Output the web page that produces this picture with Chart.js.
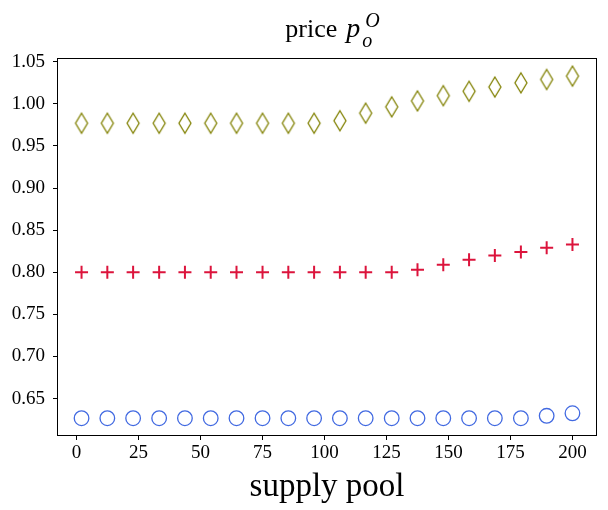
<!DOCTYPE html>
<html lang="en">
<head>
  <meta charset="UTF-8">
  <title>price p_o^O</title>
  <script src="https://cdn.jsdelivr.net/npm/chart.js"></script>
  <style>
    html, body { margin: 0; padding: 0; background: #fff; }
    .wrap { width: 608px; height: 510px; position: relative; }
  </style>
</head>
<body>
  <div class="wrap">
    <canvas id="priceChart"></canvas>
  </div>

  <script>
    // values
    const supplyPool = [2, 12.4, 22.8, 33.3, 43.7, 54.1, 64.5, 75, 85.4, 95.8,
      106.2, 116.6, 127.1, 137.5, 147.9, 158.3, 168.7, 179.2, 189.6, 200];
    const diamondPrice = [0.977, 0.977, 0.977, 0.977, 0.977, 0.977, 0.977, 0.977, 0.977, 0.977,
      0.980, 0.989, 0.9965, 1.0035, 1.0098, 1.015, 1.020, 1.025, 1.029, 1.033];
    const plusPrice = [0.800, 0.800, 0.800, 0.800, 0.800, 0.800, 0.800, 0.800, 0.800, 0.800,
      0.800, 0.800, 0.800, 0.803, 0.809, 0.815, 0.820, 0.824, 0.829, 0.833];
    const circlePrice = [0.6266, 0.6266, 0.6266, 0.6266, 0.6266, 0.6266, 0.6266, 0.6266, 0.6266, 0.6266,
      0.6266, 0.6266, 0.6266, 0.6266, 0.6266, 0.6266, 0.6266, 0.6266, 0.6295, 0.6325];

    const serif = "'Liberation Serif', 'DejaVu Serif', serif";

    // thin diamond marker (matplotlib 'd')
    function thinDiamond(color) {
      const c = document.createElement('canvas');
      c.width = 16;
      c.height = 24;
      const g = c.getContext('2d');
      g.strokeStyle = color;
      g.lineWidth = 1.3;
      g.beginPath();
      g.moveTo(8, 2);
      g.lineTo(14, 12);
      g.lineTo(8, 22);
      g.lineTo(2, 12);
      g.closePath();
      g.stroke();
      return c;
    }

    const toPoints = ys => ys.map((y, i) => ({ x: supplyPool[i], y: y }));

    // frame + title with sub/superscript
    const frameAndTitle = {
      id: 'frameAndTitle',
      afterDraw(chart) {
        const { ctx, chartArea: a } = chart;
        ctx.save();
        ctx.strokeStyle = '#000';
        ctx.lineWidth = 1;
        ctx.strokeRect(Math.round(a.left) + 0.5, Math.round(a.top) + 0.5,
          Math.round(a.right - a.left) - 1, Math.round(a.bottom - a.top) - 1);

        ctx.fillStyle = '#000';
        ctx.textBaseline = 'alphabetic';
        ctx.textAlign = 'left';
        const big = '26px ' + serif;
        const bigIt = 'italic 28px ' + serif;
        const small = 'italic 20px ' + serif;
        ctx.font = big;
        const w1 = ctx.measureText('price').width + 9;
        ctx.font = bigIt;
        const w2 = ctx.measureText('p').width + 3;
        ctx.font = small;
        const w3 = ctx.measureText('O').width + 3;
        const total = w1 + w2 + w3;
        let x = 333 - total / 2;
        const base = 37;
        ctx.font = big;
        ctx.fillText('price', x, base);
        x += w1;
        ctx.font = bigIt;
        ctx.fillText('p', x, base);
        x += w2;
        ctx.font = small;
        ctx.fillText('o', x - 1, base + 10);
        ctx.fillText('O', x + 2, base - 10);
        ctx.restore();
      }
    };

    const chartData = {
      datasets: [{
        label: 'diamond',
        data: toPoints(diamondPrice),
        pointStyle: thinDiamond('#808000'),
        borderColor: '#808000',
        backgroundColor: 'transparent',
        showLine: false
      }, {
        label: 'plus',
        data: toPoints(plusPrice),
        pointStyle: 'cross',
        pointRadius: 6.5,
        borderColor: '#dc143c',
        borderWidth: 2,
        showLine: false
      }, {
        label: 'circle',
        data: toPoints(circlePrice),
        pointStyle: 'circle',
        pointRadius: 7.3,
        borderColor: '#4169e1',
        backgroundColor: 'transparent',
        borderWidth: 1.3,
        showLine: false
      }]
    };

    const tickFont = { family: serif, size: 19 };

    const priceConfig = {
      type: 'scatter',
      data: chartData,
      options: {
        responsive: true,
        maintainAspectRatio: false,
        animation: false,
        layout: { padding: { top: 58, right: 11, left: 0, bottom: 0 } },
        plugins: {
          legend: { display: false },
          tooltip: { enabled: false }
        },
        scales: {
          x: {
            type: 'linear',
            min: -7.9,
            max: 209.9,
            afterFit(scale) { scale.height = 74; },
            border: { display: false },
            grid: { drawOnChartArea: false, drawTicks: true, tickLength: 4, tickColor: '#000' },
            ticks: {
              stepSize: 25,
              includeBounds: false,
              padding: 2,
              color: '#000',
              font: tickFont,
              maxRotation: 0,
              callback: v => String(Math.round(v))
            },
            title: {
              display: true,
              text: 'supply pool',
              color: '#000',
              font: { family: serif, size: 33 },
              padding: { top: 0, bottom: 3 }
            }
          },
          y: {
            min: 0.6055,
            max: 1.0545,
            afterFit(scale) { scale.width = 57; },
            border: { display: false },
            grid: { drawOnChartArea: false, drawTicks: true, tickLength: 4, tickColor: '#000' },
            ticks: {
              stepSize: 0.05,
              includeBounds: false,
              padding: 8,
              color: '#000',
              font: tickFont,
              callback: v => v.toFixed(2)
            }
          }
        }
      },
      plugins: [frameAndTitle]
    };

    const priceChart = new Chart(document.getElementById('priceChart'), priceConfig);
  </script>
</body>
</html>
